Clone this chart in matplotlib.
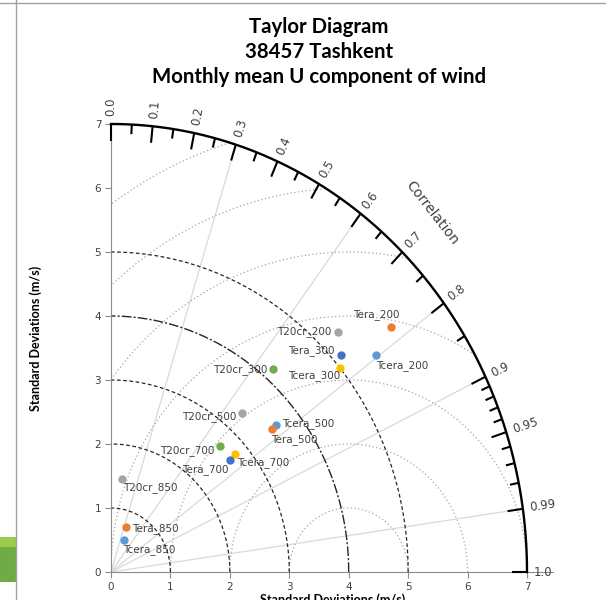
import numpy as np
import matplotlib
matplotlib.use('Agg')
import matplotlib.pyplot as plt
from matplotlib.lines import Line2D
from matplotlib.patches import Rectangle

# data: standard deviation (m/s) and correlation, per level and reanalysis
levels = ['850', '700', '500', '300', '200']
models = ['Tcera', 'Tera', 'T20cr']
tcera_std = [0.546, 2.777, 3.608, 5.008, 5.600]
tcera_corr = [0.403, 0.749, 0.770, 0.771, 0.795]
tera_std = [0.747, 2.658, 3.516, 5.145, 6.070]
tera_corr = [0.348, 0.753, 0.771, 0.752, 0.776]
t20cr_std = [1.461, 2.696, 3.315, 4.177, 5.346]
t20cr_corr = [0.123, 0.683, 0.664, 0.651, 0.713]

ref_std = 4.0
corr_major = [0.0, 0.1, 0.2, 0.3, 0.4, 0.5, 0.6, 0.7, 0.8, 0.9, 0.95, 0.99, 1.0]
corr_minor = [0.05, 0.15, 0.25, 0.35, 0.45, 0.55, 0.65, 0.75, 0.85,
              0.91, 0.92, 0.93, 0.94, 0.96, 0.97, 0.98]
corr_lines = [0.3, 0.6, 0.8, 0.9, 0.99]

excel = ['#5b9bd5', '#ed7d31', '#a5a5a5', '#ffc000', '#4472c4', '#70ad47']

# label offsets in pixels (dx, dy, ha)
offsets = {
    'Tcera_850': (-1, -10, 'left'), 'Tera_850': (6, -1, 'left'), 'T20cr_850': (1, -8, 'left'),
    'Tcera_700': (2, -8, 'left'), 'Tera_700': (-1, -9, 'right'), 'T20cr_700': (-6, -5, 'right'),
    'Tcera_500': (6, 1, 'left'), 'Tera_500': (-1, -11, 'left'), 'T20cr_500': (-5, -3, 'right'),
    'Tcera_300': (0, -8, 'right'), 'Tera_300': (-6, 4, 'right'), 'T20cr_300': (-5, 0, 'right'),
    'Tcera_200': (0, -11, 'left'), 'Tera_200': (-15, 12, 'center'), 'T20cr_200': (-6, 1, 'right'),
}

R = 7.0
fig = plt.figure(figsize=(6.06, 6.0), dpi=100)
ax = fig.add_axes([111 / 606, 28 / 600, 7.44 * 59.43 / 606, 448 / 600])
ax.set_xlim(0, 7.44)
ax.set_ylim(0, 7)
for s in ['top', 'right']:
    ax.spines[s].set_visible(False)
for s in ['left', 'bottom']:
    ax.spines[s].set_color('#8c8c8c')
    ax.spines[s].set_linewidth(0.8)
ax.set_xticks(range(8))
ax.set_yticks(range(8))
ax.tick_params(direction='out', length=4, color='#8c8c8c', labelsize=7.5,
               labelcolor='#404040', pad=3)

# radial correlation lines
for c in corr_lines:
    t = np.arccos(c)
    ax.plot([0, R * np.cos(t)], [0, R * np.sin(t)], color='#d9d9d9', lw=0.9, zorder=1)

# RMS circles around the reference
phi = np.linspace(0, np.pi, 600)
for r in range(1, 8):
    x = ref_std + r * np.cos(phi)
    y = r * np.sin(phi)
    ok = (x >= 0) & (x ** 2 + y ** 2 <= R ** 2 + 1e-9)
    x = np.where(ok, x, np.nan)
    y = np.where(ok, y, np.nan)
    ax.plot(x, y, color='#a6a6a6', lw=0.9, ls=(0, (1, 2)), zorder=1)

# std dev arcs
th = np.linspace(0, np.pi / 2, 300)
for r in [1, 2, 3, 5]:
    ax.plot(r * np.cos(th), r * np.sin(th), color='#262626', lw=0.9,
            ls=(0, (3, 2)), zorder=2, clip_on=False)
ax.plot(ref_std * np.cos(th), ref_std * np.sin(th), color='#262626', lw=1.0,
        ls=(0, (7, 1.5, 1.5, 1.5)), zorder=2, clip_on=False)

# outer correlation arc with ticks
ax.plot(R * np.cos(th), R * np.sin(th), color='black', lw=1.7, zorder=3, clip_on=False)
for c in corr_major:
    t = np.arccos(c)
    ax.plot([R * np.cos(t), (R - 0.26) * np.cos(t)], [R * np.sin(t), (R - 0.26) * np.sin(t)],
            color='black', lw=1.5, zorder=3, clip_on=False, solid_capstyle='butt')
    lbl = '%.2f' % c if c in (0.95, 0.99) else '%.1f' % c
    ax.text((R + 0.12) * np.cos(t), (R + 0.12) * np.sin(t), lbl, rotation=np.degrees(t),
            rotation_mode='anchor', ha='left', va='center', fontsize=8.5, color='#404040')
for c in corr_minor:
    t = np.arccos(c)
    ax.plot([R * np.cos(t), (R - 0.15) * np.cos(t)], [R * np.sin(t), (R - 0.15) * np.sin(t)],
            color='black', lw=1.5, zorder=3, clip_on=False, solid_capstyle='butt')

ax.text(5.40, 5.61, 'Correlation', rotation=-52, ha='center', va='center',
        fontsize=10, color='#404040')

# points
stds = [tcera_std, tera_std, t20cr_std]
corrs = [tcera_corr, tera_corr, t20cr_corr]
for i, lev in enumerate(levels):
    for j, m in enumerate(models):
        s = stds[j][i]
        t = np.arccos(corrs[j][i])
        px, py = s * np.cos(t), s * np.sin(t)
        ax.plot(px, py, 'o', ms=6, color=excel[(3 * i + j) % 6], mec='none', zorder=5)
        name = m + '_' + lev
        dx, dy, ha = offsets[name]
        ax.annotate(name, (px, py), xytext=(dx, dy), textcoords='offset pixels',
                    ha=ha, va='center', fontsize=7.5, color='#404040', zorder=6)

# titles and axis labels
tfont = dict(fontsize=14.7, fontweight='bold', family=['Lato', 'DejaVu Sans'], ha='center', va='center')
fig.text(319 / 606, 1 - 27 / 600, 'Taylor Diagram', **tfont)
fig.text(319 / 606, 1 - 52 / 600, '38457 Tashkent', **tfont)
fig.text(319 / 606, 1 - 77 / 600, 'Monthly mean U component of wind', **tfont)
fig.text(36 / 606, 1 - 338 / 600, 'Standard Deviations (m/s)', rotation=90, ha='center',
         va='center', fontsize=9, fontweight='bold', family=['Lato', 'DejaVu Sans'])
fig.text(333 / 606, 1 - 593 / 600, 'Standard Deviations (m/s)', ha='center', va='top',
         fontsize=9, fontweight='bold', family=['Lato', 'DejaVu Sans'])

# window edges of the screenshot
fig.add_artist(Line2D([0, 1], [1 - 3 / 600] * 2, transform=fig.transFigure, color='#a0a0a0', lw=1))
fig.add_artist(Line2D([16 / 606] * 2, [0, 1], transform=fig.transFigure, color='#a0a0a0', lw=1))
fig.add_artist(Rectangle((0, 1 - 547 / 600), 16 / 606, 10 / 600, transform=fig.transFigure,
                         color='#9bcb4c', lw=0))
fig.add_artist(Rectangle((0, 1 - 582 / 600), 16 / 606, 35 / 600, transform=fig.transFigure,
                         color='#6fac46', lw=0))

fig.savefig('out.png', dpi=100)
